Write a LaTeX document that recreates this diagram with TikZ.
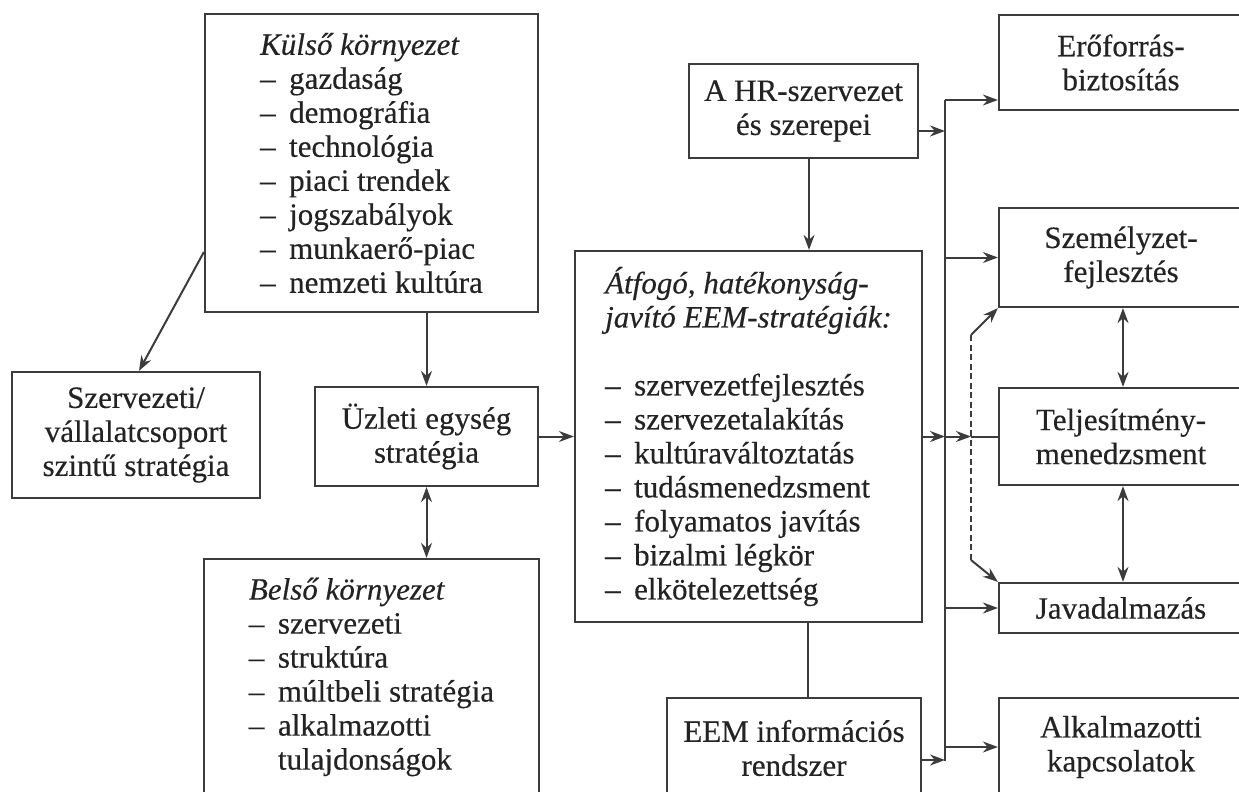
\documentclass[tikz,border=0pt]{standalone}
\usepackage{fontspec}
\setmainfont{Liberation Serif}[FakeBold=0.35]
\usetikzlibrary{arrows.meta,calc}
\definecolor{linec}{RGB}{60,60,60}
\definecolor{textc}{RGB}{35,35,35}
% list item with a hanging en dash
\newcommand{\itm}{\makebox[29pt][l]{–}}
\newcommand{\itmgap}{\hspace*{29pt}}

\begin{document}
\begin{tikzpicture}[x=1pt,y=-1pt,
  box/.style={draw=linec, line width=2.2pt, inner sep=0pt, align=center,
              text=textc, font=\fontsize{31}{34}\selectfont},
  lbox/.style={box, align=left},
  conn/.style={draw=linec, line width=2pt},
  arr/.style={conn, -{Stealth[length=15pt,width=11pt]}},
  arrr/.style={conn, {Stealth[length=15pt,width=11pt]}-{Stealth[length=15pt,width=11pt]}},
  dsh/.style={conn, dash pattern=on 6pt off 3.5pt}]

\clip (0,0) rectangle (1239,792);
\fill[white] (0,0) rectangle (1239,792);

% left column
\node[lbox, minimum width=333pt, minimum height=298pt] (kulso) at (371.5,163)
  {\textit{Külső környezet}\\
   \itm gazdaság\\
   \itm demográfia\\
   \itm technológia\\
   \itm piaci trendek\\
   \itm jogszabályok\\
   \itm munkaerő-piac\\
   \itm nemzeti kultúra};

\node[box, minimum width=248pt, minimum height=126pt] (szerv) at (136,435)
  {Szervezeti/\\vállalatcsoport\\szintű stratégia};

\node[box, minimum width=223pt, minimum height=99pt] (uzleti) at (426.5,436.5)
  {Üzleti egység\\stratégia};

\node[lbox, minimum width=335pt, minimum height=236pt] (belso) at (371.5,677)
  {\textit{Belső környezet}\\
   \itm szervezeti\\
   \itm struktúra\\
   \itm múltbeli stratégia\\
   \itm alkalmazotti\\
   \itmgap tulajdonságok};

% middle column
\node[box, minimum width=229pt, minimum height=94pt] (hr) at (803.5,111)
  {A HR-szervezet\\és szerepei};

\node[lbox, minimum width=347pt, minimum height=371pt] (atfogo) at (748.5,436.5)
  {\textit{Átfogó, hatékonyság-}\\
   \textit{javító EEM-stratégiák:}\\[34pt]
   \itm szervezetfejlesztés\\
   \itm szervezetalakítás\\
   \itm kultúraváltoztatás\\
   \itm tudásmenedzsment\\
   \itm folyamatos javítás\\
   \itm bizalmi légkör\\
   \itm elkötelezettség};

\node[box, minimum width=254pt, minimum height=100pt] (eem) at (794,748)
  {EEM információs\\rendszer};

% right column
\node[box, minimum width=244pt, minimum height=95pt] (ero) at (1121,62.5)
  {Erőforrás-\\biztosítás};
\node[box, minimum width=244pt, minimum height=99pt] (szemely) at (1121,257.5)
  {Személyzet-\\fejlesztés};
\node[box, minimum width=244pt, minimum height=97pt] (telj) at (1121,436.5)
  {Teljesítmény-\\menedzsment};
\node[box, minimum width=244pt, minimum height=50pt] (java) at (1121,608)
  {Javadalmazás};
\node[box, minimum width=244pt, minimum height=98pt] (alk) at (1121,747)
  {Alkalmazotti\\kapcsolatok};

% distribution bus and dashed feedback line
\coordinate (bt) at (945,100);
\coordinate (bb) at (945,761);
\coordinate (dtop) at (971,335);
\coordinate (dbot) at (971,560);
\coordinate (dmid) at (971,436.5);

% connectors on the left
\draw[arr] (uzleti.north |- kulso.south) -- (uzleti.north);
\draw[arr] ([yshift=-89pt]kulso.west) -- ([xshift=3pt]szerv.north);
\draw[arrr] (uzleti.south) -- (uzleti.south |- belso.north);
\draw[arr] (uzleti.east) -- (uzleti.east -| atfogo.west);

% connectors in the middle
\draw[arr] ([xshift=5.5pt]hr.south) -- ([xshift=5.5pt]hr.south |- atfogo.north);
\draw[conn] ([xshift=14pt]eem.north) -- ([xshift=14pt]eem.north |- atfogo.south);
\draw[arr] ([yshift=-20pt]hr.east) -- ([yshift=-20pt]hr.east -| bt);
\draw[arr] (atfogo.east) -- (atfogo.east -| bt);
\draw[arr] ([yshift=-12pt]eem.east) -- ([yshift=-12pt]eem.east -| bt);

% bus and its branches
\draw[conn] (bt) -- (bb);
\draw[arr] (bt) -- (ero.west |- bt);
\draw[arr] (szemely.west -| bt) -- (szemely.west);
\draw[arr] (dmid -| bt) -- (dmid);
\draw[conn] (dmid) -- (telj.west);
\draw[arr] (java.west -| bt) -- (java.west);
\draw[arr] (alk.west -| bt) -- (alk.west);

% dashed link between development and compensation
\draw[dsh] (dtop) -- (dbot);
\draw[arr] (dtop) -- (szemely.south west);
\draw[arr] (dbot) -- (java.north west);

% two-way links in the right column
\draw[arrr] ([xshift=2pt]szemely.south) -- ([xshift=2pt]telj.north);
\draw[arrr] ([xshift=2pt]telj.south) -- ([xshift=2pt]java.north);
\end{tikzpicture}
\end{document}
